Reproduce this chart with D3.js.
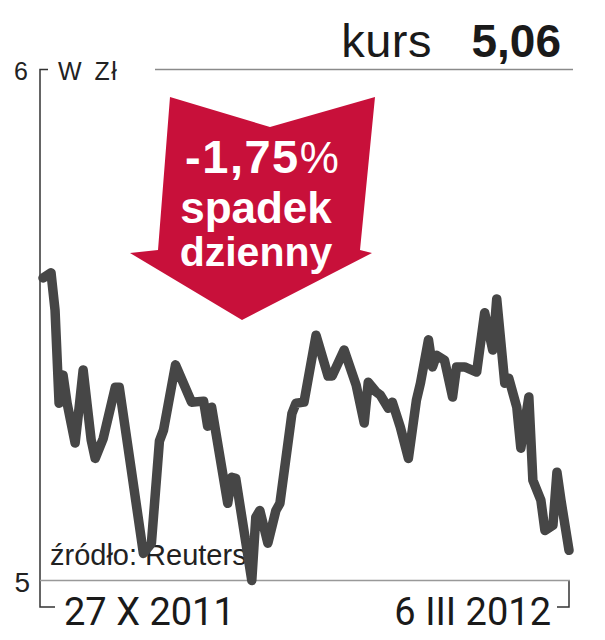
<!DOCTYPE html>
<html>
<head>
<meta charset="utf-8">
<script src="https://cdn.jsdelivr.net/npm/d3@7"></script>
<style>
  body { margin: 0; background: #fff; }
  svg { display: block; }
</style>
</head>
<body>
<div id="wykres"></div>
<script>
// dni od 27 X 2011 i kurs w zł
var dni = [0, 2, 3, 4, 5, 6, 8, 9, 10, 12, 13, 15, 18, 19, 22, 25, 27, 29, 30, 33,
  37, 40, 41, 42, 46, 47, 48, 52, 53, 54, 56, 58, 59, 62, 63, 65, 68, 71, 72, 75,
  78, 80, 81, 83, 84, 86, 87, 89, 91, 93, 94, 96, 97, 98, 100, 102, 103, 105, 108, 110,
  112, 113, 115, 116, 118, 119, 121, 122, 124, 125, 127, 128, 129, 131]
var kurs = [5.592, 5.602, 5.529, 5.347, 5.402, 5.347, 5.269, 5.339, 5.412, 5.275, 5.239, 5.278, 5.378, 5.378, 5.216, 5.053, 5.073, 5.273, 5.294, 5.422,
  5.349, 5.351, 5.302, 5.339, 5.151, 5.202, 5.200, 5.000, 5.124, 5.137, 5.073, 5.137, 5.151, 5.327, 5.347, 5.349, 5.480, 5.400, 5.400, 5.451,
  5.382, 5.308, 5.388, 5.369, 5.363, 5.337, 5.349, 5.300, 5.239, 5.353, 5.386, 5.471, 5.418, 5.441, 5.431, 5.359, 5.418, 5.418, 5.408, 5.524,
  5.451, 5.551, 5.386, 5.396, 5.339, 5.259, 5.359, 5.196, 5.157, 5.098, 5.108, 5.212, 5.157, 5.059]
var yTicks = [5, 6]
var dataStart = "27 X 2011", dataKoniec = "6 III 2012"
var zmiana = "-1,75", kursOstatni = "5,06"

var start = new Date(2011, 9, 27)
var dane = dni.map(function(d, i) { return {data: d3.timeDay.offset(start, d), kurs: kurs[i]} })

var svg = d3.select("#wykres").append("svg").attr("width", 605).attr("height", 640)

var x = d3.scaleTime().domain([start, new Date(2012, 2, 6)]).range([43, 569])
var y = d3.scaleLinear().domain([5, 6]).range([580.5, 69.5])

var ink = "#1a1a1a"

// naglowek
svg.append("text").attr("x", 432).attr("y", 57).attr("text-anchor", "end")
  .style("font-family", "'Liberation Sans Narrow', 'Liberation Sans', sans-serif").style("font-size", "47px").style("letter-spacing", "0.5px")
  .attr("fill", ink).text("kurs")
svg.append("text").attr("x", 561).attr("y", 57).attr("text-anchor", "end")
  .style("font-family", "'Liberation Sans', sans-serif").style("font-size", "46px").style("font-weight", "bold")
  .attr("fill", ink).text(kursOstatni)
svg.append("line").attr("x1", 155).attr("x2", 573).attr("y1", y(6)).attr("y2", y(6))
  .attr("stroke", "#8a8a8a").attr("stroke-width", 1.5)

// os Y
svg.append("path")
  .attr("d", "M48," + y(6) + "H40V607H55")
  .attr("fill", "none").attr("stroke", "#333").attr("stroke-width", 1.5)
svg.append("path")
  .attr("d", "M" + x.range()[1] + "," + y(5) + "V607H557")
  .attr("fill", "none").attr("stroke", "#333").attr("stroke-width", 1.5)
svg.append("line").attr("x1", 40).attr("x2", 570).attr("y1", y(5)).attr("y2", y(5))
  .attr("stroke", "#999").attr("stroke-width", 1.5)

svg.selectAll(".ytick").data(yTicks).enter().append("text")
  .attr("x", function(d) { return d == 5 ? 30 : 28 }).attr("y", function(d) { return y(d) + (d == 5 ? 11 : 10) })
  .attr("text-anchor", "end")
  .style("font-family", "'Liberation Sans', sans-serif").style("font-size", function(d) { return d == 5 ? "28px" : "25px" })
  .attr("fill", "#222").text(function(d) { return d })

svg.append("text").attr("x", 58).attr("y", 80)
  .style("font-family", "'Liberation Sans', sans-serif").style("font-size", "25px").style("letter-spacing", "1.5px").style("word-spacing", "3px")
  .attr("fill", "#222").text("W Zł")

// daty
svg.append("text").attr("x", 64).attr("y", 625)
  .style("font-family", "Roboto, sans-serif").style("font-size", "38px")
  .attr("fill", ink).text(dataStart)
svg.append("text").attr("x", 551).attr("y", 625).attr("text-anchor", "end")
  .style("font-family", "Roboto, sans-serif").style("font-size", "38px")
  .attr("fill", ink).text(dataKoniec)

// zrodlo
svg.append("text").attr("x", 50).attr("y", 565)
  .style("font-family", "'Liberation Sans', sans-serif").style("font-size", "29px")
  .attr("fill", "#222").text("źródło: Reuters")

// strzalka
var strzalka = [[170, 97], [270, 127], [375, 97], [360, 250], [372, 253], [242, 320], [130, 253], [158, 250]]
svg.append("path").attr("d", d3.line()(strzalka) + "Z").attr("fill", "#c8103a")

var t1 = svg.append("text").attr("x", 262).attr("y", 173).attr("text-anchor", "middle")
  .style("font-family", "'Liberation Sans', sans-serif").attr("fill", "#fff")
t1.append("tspan").style("font-size", "47px").style("font-weight", "bold").style("letter-spacing", "1.5px").text(zmiana)
t1.append("tspan").style("font-size", "44px").text("%")
svg.append("text").attr("x", 256).attr("y", 223).attr("text-anchor", "middle")
  .style("font-family", "'Liberation Sans', sans-serif").style("font-size", "44px").style("font-weight", "bold")
  .attr("fill", "#fff").text("spadek")
svg.append("text").attr("x", 256).attr("y", 266).attr("text-anchor", "middle")
  .style("font-family", "'Liberation Sans', sans-serif").style("font-size", "41px").style("font-weight", "bold")
  .attr("fill", "#fff").text("dzienny")

// linia kursu
var linia = d3.line().x(function(d) { return x(d.data) }).y(function(d) { return y(d.kurs) })
svg.append("path").datum(dane).attr("d", linia)
  .attr("fill", "none").attr("stroke", "#464646").attr("stroke-width", 9.5)
  .attr("stroke-linejoin", "round").attr("stroke-linecap", "round")
</script>
</body>
</html>
